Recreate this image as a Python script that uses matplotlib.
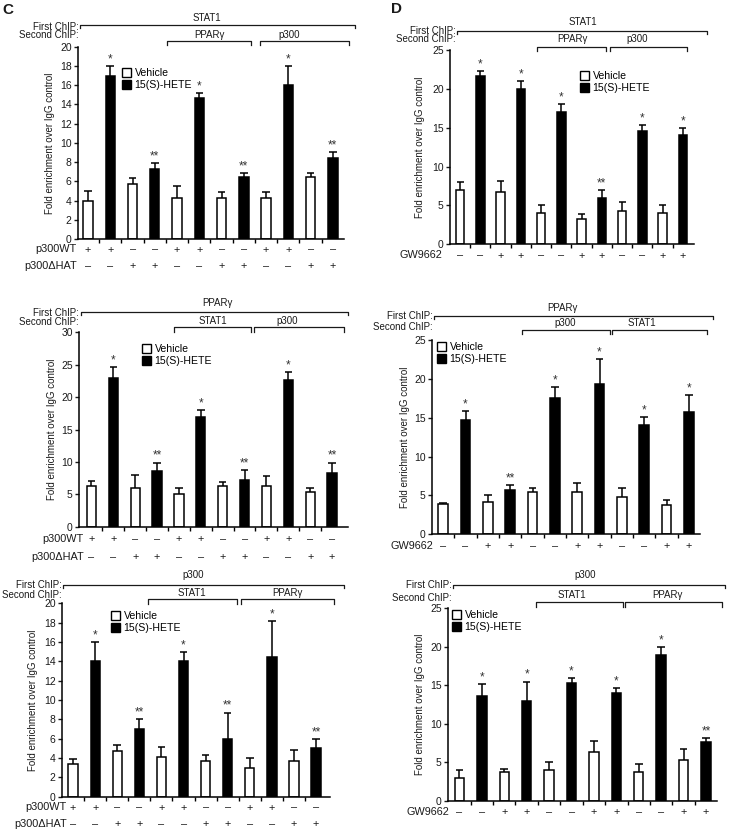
import matplotlib
matplotlib.use("Agg")
import matplotlib.pyplot as plt
import matplotlib.transforms as mtransforms
from matplotlib.lines import Line2D
from matplotlib.patches import Patch
import numpy as np

plt.rcParams['font.family'] = ['Liberation Sans', 'DejaVu Sans']

W, H = 730, 832
TXT = '#1a1a1a'

# Dados (média e erro superior)
c_stat1_mean = [4.0, 17.0, 5.7, 7.3, 4.3, 14.7, 4.3, 6.4, 4.3, 16.0, 6.4, 8.4]
c_stat1_err = [1.0, 1.0, 0.6, 0.6, 1.2, 0.5, 0.6, 0.5, 0.6, 2.0, 0.5, 0.6]
c_stat1_sig = ['', '*', '', '**', '', '*', '', '**', '', '*', '', '**']

d_stat1_mean = [7.0, 21.7, 6.7, 20.0, 4.0, 17.0, 3.3, 6.0, 4.3, 14.6, 4.0, 14.0]
d_stat1_err = [1.0, 0.6, 1.5, 1.0, 1.0, 1.0, 0.6, 1.0, 1.2, 0.7, 1.0, 1.0]
d_stat1_sig = ['', '*', '', '*', '', '*', '', '**', '', '*', '', '*']

c_ppar_mean = [6.3, 22.9, 6.0, 8.6, 5.0, 17.0, 6.3, 7.2, 6.3, 22.6, 5.4, 8.3]
c_ppar_err = [0.7, 1.8, 2.0, 1.3, 1.0, 1.0, 0.6, 1.6, 1.6, 1.2, 0.6, 1.6]
c_ppar_sig = ['', '*', '', '**', '', '*', '', '**', '', '*', '', '**']

d_ppar_mean = [3.9, 14.7, 4.1, 5.7, 5.4, 17.5, 5.4, 19.3, 4.8, 14.0, 3.8, 15.7]
d_ppar_err = [0.1, 1.2, 1.0, 0.6, 0.6, 1.4, 1.2, 3.2, 1.1, 1.1, 0.6, 2.2]
d_ppar_sig = ['', '*', '', '**', '', '*', '', '*', '', '*', '', '*']

c_p300_mean = [3.4, 14.0, 4.7, 7.0, 4.1, 14.0, 3.7, 6.0, 3.0, 14.4, 3.7, 5.0]
c_p300_err = [0.5, 2.0, 0.6, 1.0, 1.0, 1.0, 0.6, 2.7, 1.0, 3.8, 1.1, 1.0]
c_p300_sig = ['', '*', '', '**', '', '*', '', '**', '', '*', '', '**']

d_p300_mean = [3.0, 13.6, 3.7, 13.0, 4.0, 15.3, 6.3, 14.0, 3.7, 19.0, 5.3, 7.6]
d_p300_err = [1.0, 1.6, 0.5, 2.5, 1.0, 0.6, 1.5, 0.6, 1.1, 1.0, 1.5, 0.6]
d_p300_sig = ['', '*', '', '*', '', '*', '', '*', '', '*', '', '**']

# Condições
treat = ['Vehicle', '15(S)-HETE'] * 6
p300wt = ['+', '+', '–', '–'] * 3
p300dhat = ['–', '–', '+', '+'] * 3
gw9662 = ['–', '–', '+', '+'] * 3


def fx(px):
    return px / W


def fy(py):
    return 1 - py / H


def fig_line(fig, xs, ys):
    fig.add_artist(Line2D([fx(x) for x in xs], [fy(y) for y in ys],
                          color=TXT, lw=0.9, transform=fig.transFigure))


def fig_text(fig, x, y, s, ha='center', size=7):
    fig.text(fx(x), fy(y), s, ha=ha, va='center', fontsize=size, color=TXT)


def bracket(fig, x0, x1, y, drop):
    fig_line(fig, [x0, x0, x1, x1], [y + drop, y, y, y + drop])


def panel(fig, box, ymax, ystep, xlim, mean, err, sig, rows, legend_xy, ylab_x):
    left, top, right, bottom = box
    ax = fig.add_axes([fx(left), fy(bottom), (right - left) / W, (bottom - top) / H])
    x = np.arange(len(mean))
    colors = ['white' if t == 'Vehicle' else 'black' for t in treat]
    ax.bar(x, mean, width=0.42, color=colors, edgecolor='black', linewidth=1.1, zorder=2)
    tops = np.array(mean) + np.array(err)
    ax.vlines(x, mean, tops, color='black', lw=1.1, zorder=1)
    ax.hlines(tops, x - 0.17, x + 0.17, color='black', lw=1.1, zorder=1)
    for xi, t, s in zip(x, tops, sig):
        if s:
            ax.annotate(s, (xi, t), xytext=(0, 0.5), textcoords='offset points',
                        ha='center', va='bottom', fontsize=8.5, color='#333333')

    ax.set_xlim(*xlim)
    ax.set_ylim(0, ymax)
    ax.set_yticks(np.arange(0, ymax + 0.1, ystep))
    ax.set_xticks(np.arange(0.5, len(mean) - 0.5, 1))
    ax.set_xticklabels([])
    ax.tick_params(axis='y', direction='out', length=3, width=1, labelsize=7.5,
                   colors=TXT, pad=1.5)
    ax.tick_params(axis='x', direction='out', length=3, width=1)
    for sp in ['top', 'right']:
        ax.spines[sp].set_visible(False)
    for sp in ['left', 'bottom']:
        ax.spines[sp].set_linewidth(1.1)
    ax.set_ylabel('Fold enrichment over IgG control', fontsize=7, color=TXT)
    ax.yaxis.set_label_coords((ylab_x - left) / (right - left), 0.5)

    # Linhas de condições abaixo do eixo
    tr = mtransforms.blended_transform_factory(ax.transData, fig.transFigure)
    for name, labels, ypx, xr in rows:
        fig_text(fig, xr, ypx, name, ha='right', size=7.8)
        for xi, lab in zip(x, labels):
            ax.text(xi, fy(ypx), lab, transform=tr, ha='center', va='center',
                    fontsize=7.8, color=TXT)

    handles = [Patch(facecolor='white', edgecolor='black', lw=1.0),
               Patch(facecolor='black', edgecolor='black', lw=1.0)]
    ax.legend(handles, ['Vehicle', '15(S)-HETE'], loc='upper left',
              bbox_to_anchor=(fx(legend_xy[0]), fy(legend_xy[1])),
              bbox_transform=fig.transFigure, frameon=False, fontsize=7.6,
              handlelength=0.85, handleheight=0.95, handletextpad=0.35,
              labelspacing=0.15, borderpad=0, borderaxespad=0)
    return ax


fig = plt.figure(figsize=(W / 100, H / 100), dpi=100, facecolor='white')

fig.text(fx(2), fy(10), 'C', fontsize=11, fontweight='bold', va='center', color=TXT)
fig.text(fx(391), fy(9), 'D', fontsize=11, fontweight='bold', va='center', color=TXT)

# ---- C, linha 1: STAT1 ----
panel(fig, (78, 46.7, 344, 239), 20, 2, (-0.45, 11.5), c_stat1_mean, c_stat1_err, c_stat1_sig,
      [('p300WT', p300wt, 249.5, 77), ('p300ΔHAT', p300dhat, 266, 77)], (122, 68), 55)
fig_text(fig, 207, 18, 'STAT1')
fig_text(fig, 79, 27, 'First ChIP:', ha='right')
fig_text(fig, 79, 35.5, 'Second ChIP:', ha='right')
bracket(fig, 80, 355, 25, 3)
bracket(fig, 167, 251, 40.5, 4.5)
bracket(fig, 260, 349, 40.5, 4.5)
fig_text(fig, 209, 35, 'PPARγ')
fig_text(fig, 289, 35, 'p300')

# ---- D, linha 1: STAT1 ----
panel(fig, (450, 50, 694, 244.3), 25, 5, (-0.5, 11.55), d_stat1_mean, d_stat1_err, d_stat1_sig,
      [('GW9662', gw9662, 255.5, 442)], (580, 71), 425)
fig_text(fig, 583, 22, 'STAT1')
fig_text(fig, 456, 31, 'First ChIP:', ha='right')
fig_text(fig, 456, 39.5, 'Second ChIP:', ha='right')
bracket(fig, 457, 707, 31, 3)
bracket(fig, 537, 606, 46.5, 4.5)
bracket(fig, 610, 687, 46.5, 4.5)
fig_text(fig, 572, 39.5, 'PPARγ')
fig_text(fig, 637, 39.5, 'p300')

# ---- C, linha 2: PPARγ ----
panel(fig, (79, 332.3, 348, 526.7), 30, 5, (-0.57, 11.73), c_ppar_mean, c_ppar_err, c_ppar_sig,
      [('p300WT', p300wt, 539, 84), ('p300ΔHAT', p300dhat, 557, 84)], (142, 344), 57)
fig_text(fig, 217, 303, 'PPARγ')
fig_text(fig, 79, 313, 'First ChIP:', ha='right')
fig_text(fig, 79, 322, 'Second ChIP:', ha='right')
bracket(fig, 81, 348, 312, 3)
bracket(fig, 174, 251, 327, 4.5)
bracket(fig, 254, 344, 327, 4.5)
fig_text(fig, 213, 321, 'STAT1')
fig_text(fig, 287, 321, 'p300')

# ---- D, linha 2: PPARγ ----
panel(fig, (432, 340, 700, 534.3), 25, 5, (-0.5, 11.5), d_ppar_mean, d_ppar_err, d_ppar_sig,
      [('GW9662', gw9662, 546, 433)], (437, 342), 410)
fig_text(fig, 562, 308, 'PPARγ')
fig_text(fig, 433, 316, 'First ChIP:', ha='right')
fig_text(fig, 433, 327, 'Second ChIP:', ha='right')
bracket(fig, 434, 713, 316, 3)
bracket(fig, 522, 610, 330, 4.5)
bracket(fig, 612, 707, 330, 4.5)
fig_text(fig, 565, 323, 'p300')
fig_text(fig, 642, 323, 'STAT1')

# ---- C, linha 3: p300 ----
panel(fig, (62, 603.3, 330, 796.7), 20, 2, (-0.5, 11.63), c_p300_mean, c_p300_err, c_p300_sig,
      [('p300WT', p300wt, 807.5, 67), ('p300ΔHAT', p300dhat, 824, 67)], (111, 611), 38)
fig_text(fig, 193, 575, 'p300')
fig_text(fig, 62, 585, 'First ChIP:', ha='right')
fig_text(fig, 62, 595, 'Second ChIP:', ha='right')
bracket(fig, 63, 344, 585, 3)
bracket(fig, 148, 237, 599, 4.5)
bracket(fig, 241, 334, 599, 4.5)
fig_text(fig, 192, 593, 'STAT1')
fig_text(fig, 287, 593, 'PPARγ')

# ---- D, linha 3: p300 ----
panel(fig, (448, 608.3, 717, 801), 25, 5, (-0.51, 11.49), d_p300_mean, d_p300_err, d_p300_sig,
      [('GW9662', gw9662, 812, 449)], (452, 610), 425)
fig_text(fig, 585, 575, 'p300')
fig_text(fig, 452, 585, 'First ChIP:', ha='right')
fig_text(fig, 452, 598, 'Second ChIP:', ha='right')
bracket(fig, 453, 725, 585, 3)
bracket(fig, 536, 623, 602, 4.5)
bracket(fig, 625, 722, 602, 4.5)
fig_text(fig, 572, 595, 'STAT1')
fig_text(fig, 667, 595, 'PPARγ')

plt.savefig('out.png', dpi=100, facecolor='white')
plt.close()
